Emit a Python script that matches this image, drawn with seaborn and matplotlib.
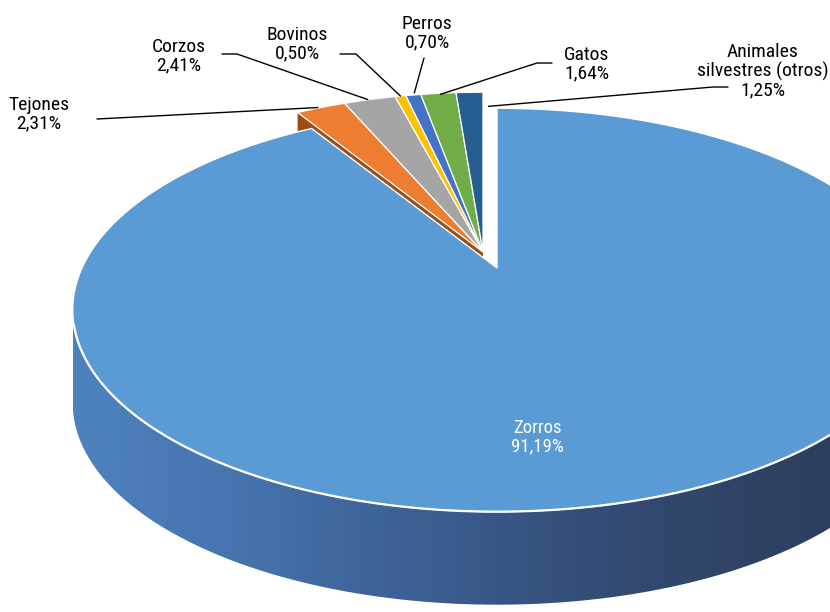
import numpy as np
import matplotlib
matplotlib.use("Agg")
import matplotlib.pyplot as plt
from matplotlib.patches import Polygon
from matplotlib.colors import LinearSegmentedColormap
from matplotlib import font_manager
import seaborn as sns

# Share of cases by animal species (%)
categories = ["Zorros", "Tejones", "Corzos", "Bovinos", "Perros", "Gatos",
              "Animales\nsilvestres (otros)"]
shares = [91.19, 2.31, 2.41, 0.50, 0.70, 1.64, 1.25]
slice_colors = ["#5B9BD5", "#ED7D31", "#A5A5A5", "#FFC000", "#4472C4",
                "#70AD47", "#255E91"]

sns.set_theme(style="white")
installed = {f.name for f in font_manager.fontManager.ttflist}
label_font = next(f for f in ["Liberation Sans Narrow", "Roboto Condensed",
                              "DejaVu Sans"] if f in installed or f == "DejaVu Sans")
plt.rcParams["font.family"] = [label_font, "DejaVu Sans"]

# Perspective disc geometry (pixel space, y pointing down)
A, B, K = 415.0, 193.0, 0.208
DEPTH = 93.0
MAIN_CENTER = (497.0, 268.0)    # big slice, pulled out toward the viewer
GROUP_CENTER = (483.0, 252.0)   # remaining slices


def project(theta_deg, center, r=1.0, drop=0.0):
    t = np.radians(theta_deg)
    s, c = r * np.sin(t), r * np.cos(t)
    d = 1.0 + K * s
    return center[0] + A * c / d, center[1] - B * s / d + drop


def arc(t0, t1, center, drop=0.0, n=300):
    th = np.linspace(t0, t1, n)
    x, y = project(th, center, drop=drop)
    return np.column_stack([x, y])


def wedge(t0, t1, center):
    return np.vstack([[center[0], center[1]], arc(t0, t1, center)])


# Slice angles: start at 12 o'clock, run clockwise
spans = [360.0 * v / sum(shares) for v in shares]
starts = [90.0] + [90.0 + 360.0 - sum(spans[:i]) for i in range(1, len(spans))]
ends = [s - sp for s, sp in zip(starts, spans)]

fig = plt.figure(figsize=(8.3, 6.12), dpi=100)
ax = fig.add_axes([0, 0, 1, 1])
ax.set_xlim(0, 830)
ax.set_ylim(612, 0)
ax.axis("off")

# Exposed cut face of the first small slice
t_cut = starts[1]
p_top = project(t_cut, GROUP_CENTER)
face = np.array([GROUP_CENTER, p_top,
                 (p_top[0], p_top[1] + DEPTH),
                 (GROUP_CENTER[0], GROUP_CENTER[1] + DEPTH)])
ax.add_patch(Polygon(face, closed=True, facecolor="#9A4D14", edgecolor="none", zorder=1))

# Small slices on the far side
for i in range(1, len(shares)):
    ax.add_patch(Polygon(wedge(starts[i], ends[i], GROUP_CENTER), closed=True,
                         facecolor=slice_colors[i], edgecolor="white",
                         linewidth=0.9, zorder=2))

# Side wall of the big slice with left-to-right shading
t_left = 180.0 + np.degrees(np.arcsin(K))
t_right = 360.0 - np.degrees(np.arcsin(K))
wall = np.vstack([arc(t_left, t_right, MAIN_CENTER),
                  arc(t_right, t_left, MAIN_CENTER, drop=DEPTH)])
wall_patch = Polygon(wall, closed=True, facecolor="none", edgecolor="none", zorder=3)
ax.add_patch(wall_patch)
shade = LinearSegmentedColormap.from_list(
    "wall", sns.blend_palette(["#4E82BF", "#4673AD", "#3C5F93", "#344E78",
                               "#2E4264", "#2B3B58"], 6, as_cmap=False))
grad = np.linspace(0, 1, 512)[None, :]
img = ax.imshow(grad, extent=(wall[:, 0].min(), wall[:, 0].max(), 620, 90),
                aspect="auto", cmap=shade, zorder=3, interpolation="bilinear")
img.set_clip_path(wall_patch)

# Top of the big slice
ax.add_patch(Polygon(wedge(starts[0], ends[0], MAIN_CENTER), closed=True,
                     facecolor=slice_colors[0], edgecolor="white",
                     linewidth=1.0, zorder=4))
rim = arc(t_left + 4, t_right, MAIN_CENTER)
ax.plot(rim[:, 0], rim[:, 1], color="white", linewidth=1.6, zorder=5)

ax.set_xlim(0, 830)
ax.set_ylim(612, 0)

# Labels
def pct(v):
    return f"{v:.2f}%".replace(".", ",")

label_pos = [(537, 437), (39, 114), (179, 56), (297, 44), (427, 33),
             (587, 64), (763, 71)]
elbows = [None, [(97, 119)], [(222, 54), (237, 54)], [(340, 54), (356, 54)],
          [(424, 58)], [(552, 63), (537, 63)], [(728, 87), (713, 87)]]
anchor_nudge = [(0, 0), (-3, 0), (-2, 0), (0, 0), (1, -2), (2, 1), (19, 14)]

for i, (name, v) in enumerate(zip(categories, shares)):
    x, y = label_pos[i]
    color = "white" if i == 0 else "black"
    size = 13.5 if i == 0 else 14
    ax.text(x, y, f"{name}\n{pct(v)}", ha="center", va="center",
            fontsize=size, color=color, linespacing=1.05, zorder=6)
    if elbows[i] is not None:
        mid = (starts[i] + ends[i]) / 2.0
        axp, ayp = project(mid, GROUP_CENTER)
        pts = elbows[i] + [(axp + anchor_nudge[i][0], ayp + anchor_nudge[i][1])]
        pts = np.array(pts)
        ax.plot(pts[:, 0], pts[:, 1], color="black", linewidth=1.0, zorder=6)

fig.savefig("out.png", dpi=100, facecolor="white")
